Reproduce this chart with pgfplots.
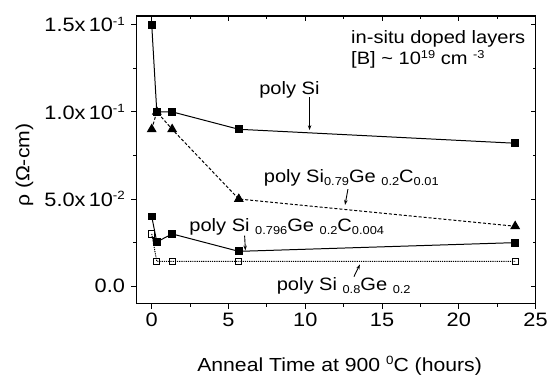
\documentclass[border=0pt]{standalone}
\usepackage{pgfplots}
\pgfplotsset{compat=1.18}
\usepackage{fontspec}
\setmainfont{Liberation Sans}[FakeStretch=1.12]
\usetikzlibrary{arrows.meta}
\newcommand{\sub}[1]{\raisebox{-2.5pt}{\fontsize{11.5}{12}\selectfont #1}}
\newcommand{\sprs}[1]{\raisebox{6.5pt}{\fontsize{12}{13}\selectfont #1}}
\newcommand{\sprt}[1]{\raisebox{6pt}{\fontsize{11.5}{12}\selectfont #1}}
\begin{document}
\begin{tikzpicture}
\pgfplotsset{
  common/.style={
    scale only axis, width=401pt, height=289pt,
    xmin=-1, xmax=25, ymin=-0.01, ymax=0.155,
    xtick={0,5,10,15,20,25}, minor x tick num=1,
    ytick={0,0.05,0.1,0.15}, minor y tick num=1,
    major tick length=5pt, minor tick length=3pt,
    every tick/.style={black, line width=1pt},
    axis line style={line width=1.2pt},
  }
}
\begin{axis}[common,
  name=main, clip=false,
  xtick pos=left, ytick pos=left, tick align=outside,
  xticklabels={0,5,10,15,20,25},
  yticklabels={0.0, 5.0x\,10\sprs{-2}, 1.0x\,10\sprs{-1}, 1.5x\,10\sprs{-1}},
  ticklabel style={font=\fontsize{19.5}{20}\selectfont},
  yticklabel style={xshift=-3pt},
  xticklabel style={yshift=-1pt},
  xlabel={Anneal Time at 900 \sprs{0}C (hours)},
  ylabel={ρ (Ω-cm)},
  label style={font=\fontsize{19}{20}\selectfont},
  xlabel style={at={(axis description cs:0.509,-0.235)}, anchor=base},
  ylabel style={at={(axis description cs:-0.268,0.481)}, anchor=base},
]
% poly Si
\addplot[black, line width=1pt, mark=square*, mark size=3.4pt, mark options={solid}]
  coordinates {(0,0.150) (0.33,0.100) (1.33,0.100) (5.67,0.090) (23.67,0.082)};
% poly SiGeC 0.01
\addplot[black, line width=1pt, dash pattern=on 3pt off 2pt, mark=triangle*, mark size=4.8pt, mark options={solid}]
  coordinates {(0,0.090) (0.33,0.100) (1.33,0.090) (5.67,0.050) (23.67,0.0344)};
% poly SiGeC 0.004
\addplot[black, line width=1pt, mark=square*, mark size=3.4pt, mark options={solid}]
  coordinates {(0,0.040) (0.33,0.0254) (1.33,0.030) (5.67,0.020) (23.67,0.025)};
% poly SiGe
\addplot[black, line width=1pt, dash pattern=on 1.2pt off 1pt, mark=square, mark size=3.1pt, mark options={solid, fill=white, line width=0.9pt}]
  coordinates {(0,0.030) (0.33,0.0142) (1.33,0.0142) (5.67,0.0142) (23.67,0.0142)};

\begin{scope}[every node/.style={font=\fontsize{18}{19}\selectfont, inner sep=0pt}]
\node[anchor=base] at (axis cs:8.97,0.110) {poly Si};
\node[anchor=base west] at (axis cs:12.98,0.1391) {in-situ doped layers};
\node[anchor=base west] at (axis cs:12.98,0.1271) {[B] \textasciitilde{} 10\sprt{19} cm \sprt{-3}};
\node[anchor=base west] at (axis cs:7.29,0.0592) {poly Si\sub{0.79}Ge \sub{0.2}C\sub{0.01}};
\node[anchor=base west] at (axis cs:2.44,0.0312) {poly Si \sub{0.796}Ge \sub{0.2}C\sub{0.004}};
\node[anchor=base west] at (axis cs:8.13,-0.0025) {poly Si \sub{0.8}Ge \sub{0.2}};
\end{scope}
\begin{scope}[line width=0.9pt, -{Stealth[length=5pt,width=3.5pt]}]
\draw (axis cs:10.28,0.1083) -- (axis cs:10.28,0.0895);
\draw (axis cs:12.78,0.0557) -- (axis cs:12.59,0.0466);
\draw (axis cs:6.05,0.0290) -- (axis cs:6.10,0.0205);
\draw (axis cs:13.17,0.0055) -- (axis cs:13.56,0.0125);
\end{scope}
\path (rel axis cs:-0.3416,-0.2388) rectangle (rel axis cs:1.0324,1.0554);
\end{axis}
\begin{axis}[common,
  xtick pos=right, ytick pos=right, tick align=inside,
  xticklabels={}, yticklabels={},
]
\end{axis}
\end{tikzpicture}
\end{document}
